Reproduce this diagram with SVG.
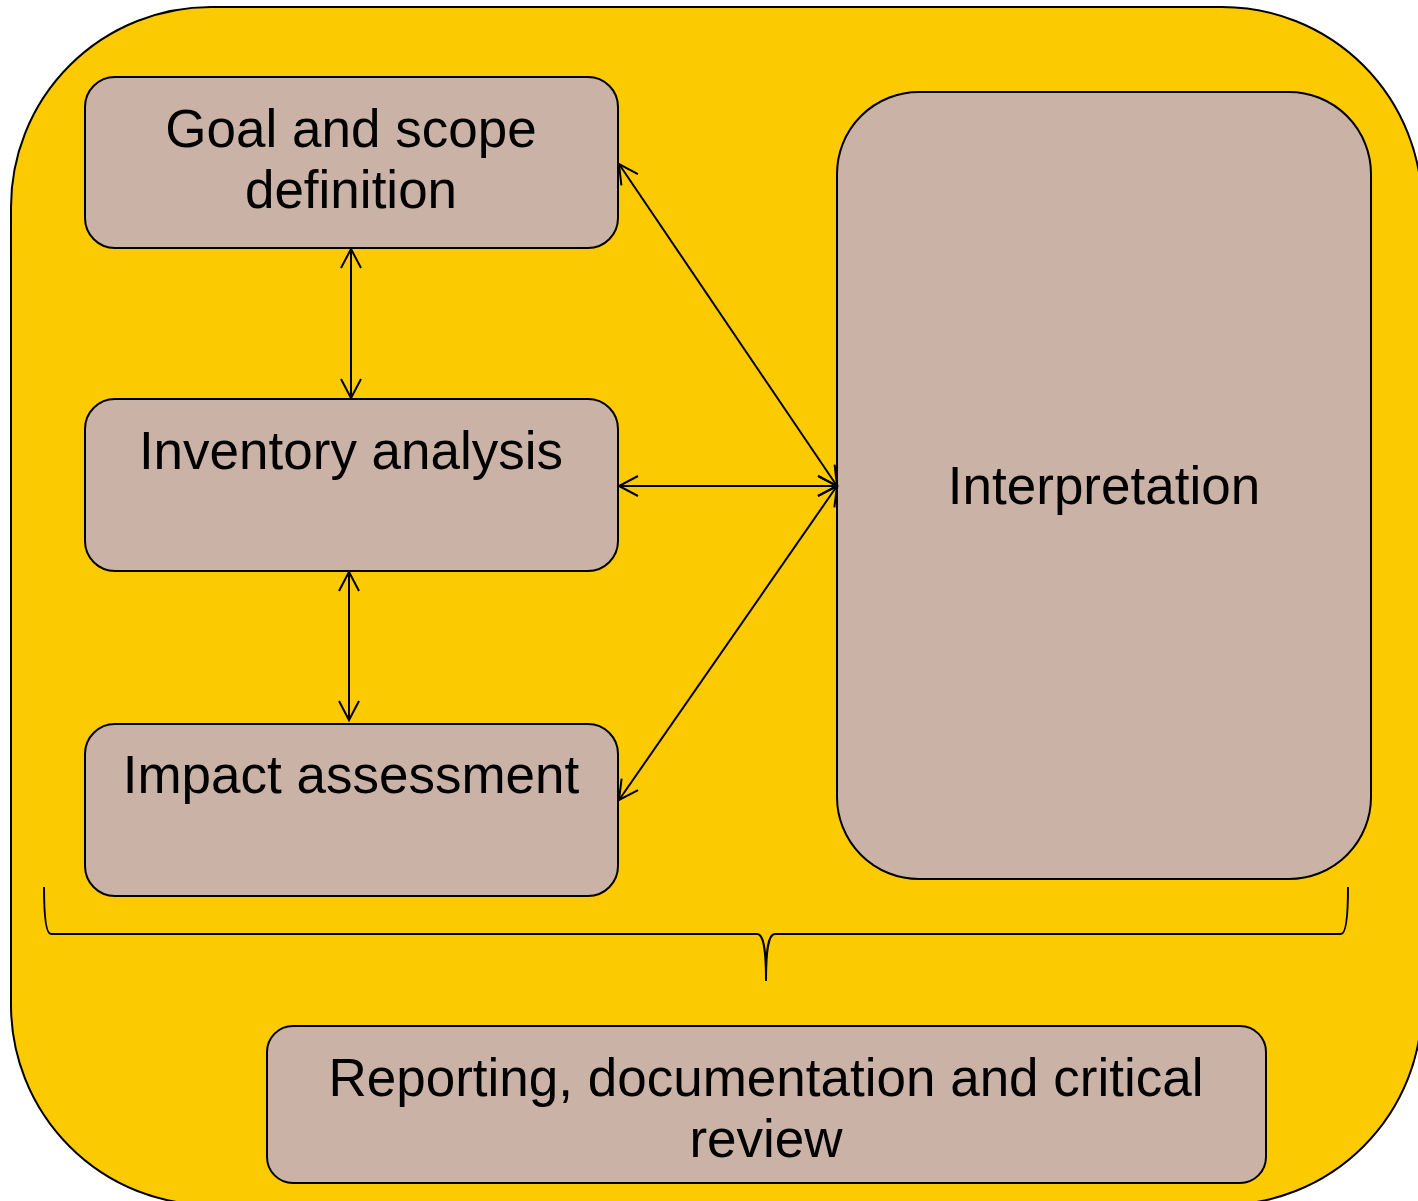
<svg xmlns="http://www.w3.org/2000/svg" width="1418" height="1201" viewBox="0 0 1418 1201">
  <defs>
    <marker id="head" viewBox="-22 -12 26 24" markerWidth="26" markerHeight="24" refX="0" refY="0" orient="auto-start-reverse" markerUnits="userSpaceOnUse">
      <path d="M -19,-10 L 0,0 L -19,10" fill="none" stroke="#000" stroke-width="2"/>
    </marker>
    <style>
      .frame { fill: #FCCA00; stroke: #000; stroke-width: 2; }
      .box { fill: #CAB3A6; stroke: #000; stroke-width: 2; }
      .label { font-family: "Liberation Sans", Arial, sans-serif; font-size: 53px; fill: #000; text-anchor: middle; }
      .link { stroke: #000; stroke-width: 2; fill: none; marker-start: url(#head); marker-end: url(#head); }
      .brace { stroke: #000; stroke-width: 2; fill: none; }
    </style>
  </defs>

  <!-- background frame -->
  <rect class="frame" x="11" y="7" width="1411" height="1198" rx="200" ry="200"/>

  <g id="goal">
    <rect class="box" x="85" y="77" width="533" height="171" rx="30" ry="30"/>
    <text class="label" x="351" y="147">Goal and scope</text>
    <text class="label" x="351" y="208">definition</text>
  </g>

  <g id="inventory">
    <rect class="box" x="85" y="399" width="533" height="172" rx="30" ry="30"/>
    <text class="label" x="351" y="469">Inventory analysis</text>
  </g>

  <g id="impact">
    <rect class="box" x="85" y="724" width="533" height="172" rx="30" ry="30"/>
    <text class="label" x="351" y="793">Impact assessment</text>
  </g>

  <g id="interpretation">
    <rect class="box" x="837" y="92" width="534" height="787" rx="82" ry="82"/>
    <text class="label" x="1104" y="504">Interpretation</text>
  </g>

  <g id="reporting">
    <rect class="box" x="267" y="1026" width="999" height="157" rx="26" ry="26"/>
    <text class="label" x="766" y="1096" font-size="52">Reporting, documentation and critical</text>
    <text class="label" x="766" y="1157" font-size="52">review</text>
  </g>

  <g id="connectors">
    <line class="link" x1="351" y1="249" x2="351" y2="398"/>
    <line class="link" x1="349" y1="572" x2="349" y2="720"/>
    <line class="link" x1="619" y1="164" x2="837" y2="486"/>
    <line class="link" x1="619" y1="486" x2="837" y2="486"/>
    <line class="link" x1="837" y1="486" x2="619" y2="800"/>
    <!-- brace grouping the phases above the reporting box -->
    <path class="brace" d="M 44,887 C 44,910 45,934 51,934 L 757,934 C 764,934 766,950 766,981 C 766,950 768,934 775,934 L 1341,934 C 1347,934 1348,910 1348,887"/>
  </g>
</svg>
